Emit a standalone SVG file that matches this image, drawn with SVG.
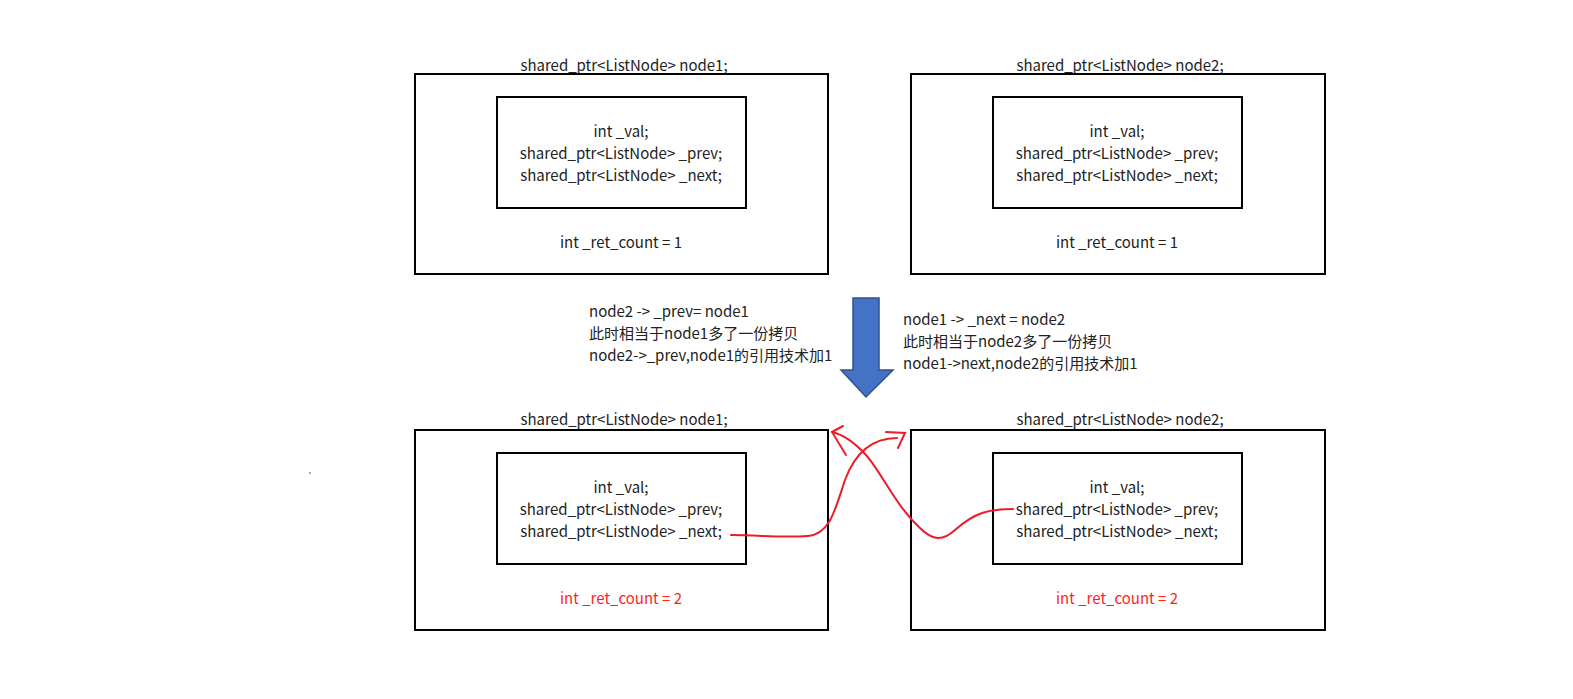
<svg xmlns="http://www.w3.org/2000/svg" width="1573" height="699" viewBox="0 0 1573 699">
<style>
.b{fill:none;stroke:#000;stroke-width:2}
text{font-family:"Microsoft YaHei","Noto Sans CJK SC","Liberation Sans",sans-serif;font-size:15px;fill:#222}
.c{text-anchor:middle}
.r{fill:#ff1f1f}
.red{fill:none;stroke:#ee1c2a;stroke-width:2;stroke-linecap:round}
</style>
<rect width="1573" height="699" fill="#fff"/>
<g id="node1-top">
<text class="c" x="624" y="71">shared_ptr&lt;ListNode&gt; node1;</text>
<rect class="b" x="415" y="74" width="413" height="200"/>
<rect class="b" x="497" y="97" width="249" height="111"/>
<text class="c" x="621" y="137">int _val;</text>
<text class="c" x="621" y="159">shared_ptr&lt;ListNode&gt; _prev;</text>
<text class="c" x="621" y="181">shared_ptr&lt;ListNode&gt; _next;</text>
<text class="c" x="621" y="248">int _ret_count = 1</text>
</g>
<g id="node2-top">
<text class="c" x="1120" y="71">shared_ptr&lt;ListNode&gt; node2;</text>
<rect class="b" x="911" y="74" width="414" height="200"/>
<rect class="b" x="993" y="97" width="249" height="111"/>
<text class="c" x="1117" y="137">int _val;</text>
<text class="c" x="1117" y="159">shared_ptr&lt;ListNode&gt; _prev;</text>
<text class="c" x="1117" y="181">shared_ptr&lt;ListNode&gt; _next;</text>
<text class="c" x="1117" y="248">int _ret_count = 1</text>
</g>
<g id="node1-bottom">
<text class="c" x="624" y="425">shared_ptr&lt;ListNode&gt; node1;</text>
<rect class="b" x="415" y="430" width="413" height="200"/>
<rect class="b" x="497" y="453" width="249" height="111"/>
<text class="c" x="621" y="493">int _val;</text>
<text class="c" x="621" y="515">shared_ptr&lt;ListNode&gt; _prev;</text>
<text class="c" x="621" y="537">shared_ptr&lt;ListNode&gt; _next;</text>
<text class="c r" x="621" y="604">int _ret_count = 2</text>
</g>
<g id="node2-bottom">
<text class="c" x="1120" y="425">shared_ptr&lt;ListNode&gt; node2;</text>
<rect class="b" x="911" y="430" width="414" height="200"/>
<rect class="b" x="993" y="453" width="249" height="111"/>
<text class="c" x="1117" y="493">int _val;</text>
<text class="c" x="1117" y="515">shared_ptr&lt;ListNode&gt; _prev;</text>
<text class="c" x="1117" y="537">shared_ptr&lt;ListNode&gt; _next;</text>
<text class="c r" x="1117" y="604">int _ret_count = 2</text>
</g>
<g id="labels">
<text x="589" y="317">node2 -&gt; _prev= node1</text>
<text x="589" y="339">此时相当于node1多了一份拷贝</text>
<text x="589" y="361">node2-&gt;_prev,node1的引用技术加1</text>
<text x="903" y="325">node1 -&gt; _next = node2</text>
<text x="903" y="347">此时相当于node2多了一份拷贝</text>
<text x="903" y="369">node1-&gt;next,node2的引用技术加1</text>
</g>
<g id="connectors">
<path d="M853 298H879V370H893L866 397L841 370H853Z" fill="#4472c4" stroke="#2f528f" stroke-width="1.5"/>
<path class="red" d="M731 535C760 535 780 538 808 536C830 534 835 510 845 480C858 445 880 438 897 438"/>
<path class="red" d="M886 432L905 433L898 448"/>
<path class="red" d="M1013 509C990 509 975 512 955 530C942 542 932 540 920 528C895 505 880 470 866 455C855 443 845 435 832 432"/>
<path class="red" d="M843 426L832 432L846 455"/>
<circle cx="310" cy="473" r="0.8" fill="#c00"/>
</g>
</svg>
